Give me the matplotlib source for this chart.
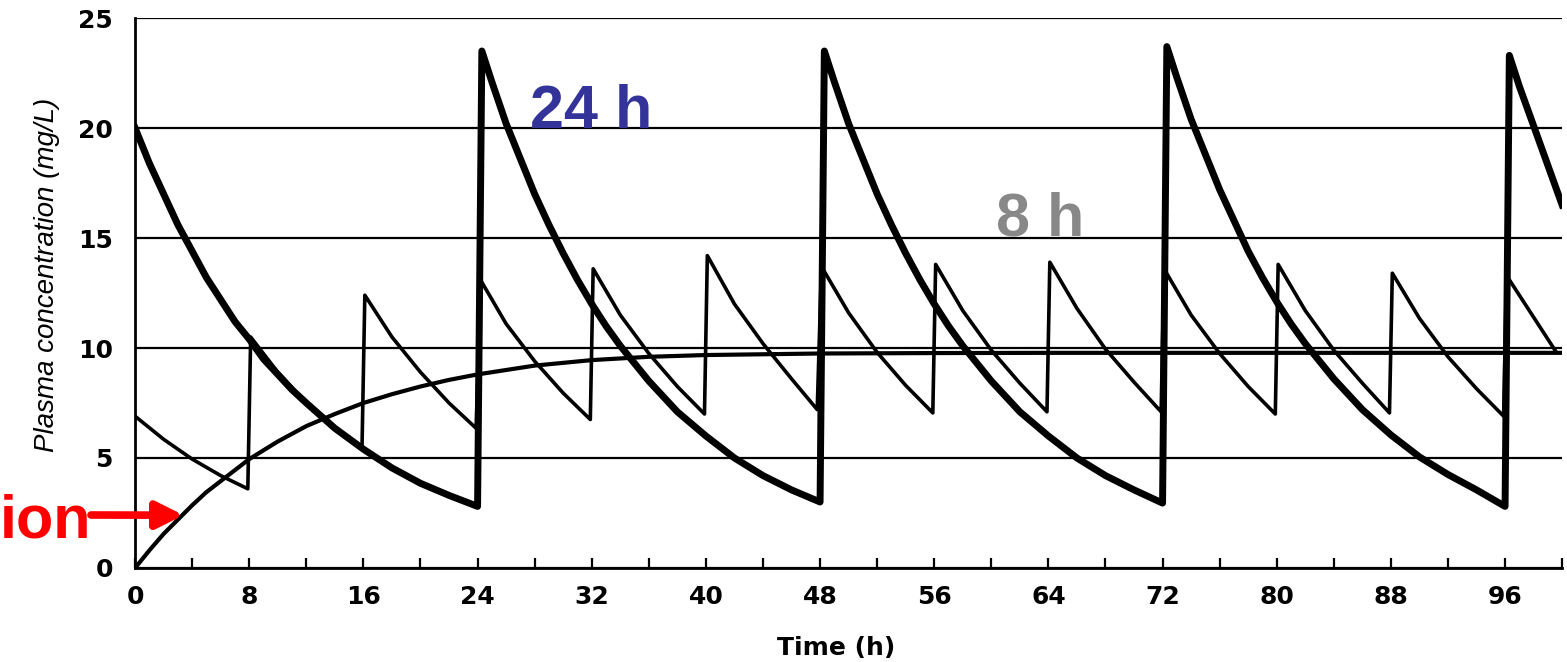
import matplotlib.pyplot as plt
from matplotlib.ticker import MultipleLocator

# continuous infusion
t_inf = [0, 1, 2, 3, 4, 5, 6, 8, 10, 12, 14, 16, 18, 20, 22, 24, 28, 32, 36, 40,
         48, 56, 64, 72, 80, 88, 96, 100]
c_inf = [0, 0.8, 1.55, 2.2, 2.85, 3.45, 3.95, 4.95, 5.75, 6.45, 7.0, 7.5, 7.9, 8.25,
         8.55, 8.8, 9.2, 9.45, 9.6, 9.68, 9.75, 9.77, 9.78, 9.78, 9.78, 9.78, 9.78, 9.78]

# dosing every 8 h
t_8h = [0, 2, 4, 6, 7.9,
        8.1, 10, 12, 14, 15.9,
        16.1, 18, 20, 22, 23.9,
        24.2, 26, 28, 30, 31.9,
        32.1, 34, 36, 38, 39.9,
        40.1, 42, 44, 46, 47.8,
        48.1, 50, 52, 54, 55.9,
        56.1, 58, 60, 62, 63.9,
        64.1, 66, 68, 70, 71.9,
        72.1, 74, 76, 78, 79.9,
        80.1, 82, 84, 86, 87.9,
        88.1, 90, 92, 94, 95.9,
        96.1, 98, 99.5]
c_8h = [6.9, 5.85, 4.95, 4.2, 3.6,
        10.5, 8.9, 7.5, 6.4, 5.4,
        12.4, 10.5, 8.9, 7.5, 6.35,
        13.1, 11.1, 9.4, 7.95, 6.75,
        13.6, 11.5, 9.75, 8.25, 7.0,
        14.2, 12.0, 10.2, 8.6, 7.2,
        13.7, 11.6, 9.8, 8.3, 7.05,
        13.8, 11.7, 9.9, 8.4, 7.1,
        13.9, 11.8, 9.95, 8.45, 7.1,
        13.6, 11.5, 9.75, 8.25, 7.0,
        13.8, 11.7, 9.9, 8.4, 7.05,
        13.4, 11.35, 9.6, 8.15, 6.9,
        13.3, 11.4, 9.9]

# dosing every 24 h
t_24h = [0, 1, 2, 3, 4, 5, 6, 7, 8, 9, 10, 11, 12, 14, 16, 18, 20, 22, 24,
         24.3, 25, 26, 27, 28, 29, 30, 31, 32, 33, 34, 35, 36, 38, 40, 42, 44, 46, 48,
         48.3, 49, 50, 51, 52, 53, 54, 55, 56, 57, 58, 59, 60, 62, 64, 66, 68, 70, 72,
         72.3, 73, 74, 75, 76, 77, 78, 79, 80, 81, 82, 83, 84, 86, 88, 90, 92, 94, 96,
         96.3, 97, 98, 99, 100]
c_24h = [20.0, 18.4, 17.0, 15.6, 14.4, 13.2, 12.2, 11.2, 10.4, 9.5, 8.8, 8.1, 7.5,
         6.35, 5.4, 4.55, 3.85, 3.3, 2.8,
         23.5, 22.1, 20.2, 18.6, 17.0, 15.6, 14.3, 13.1, 12.0, 11.0, 10.1, 9.3, 8.5,
         7.1, 6.0, 5.0, 4.2, 3.55, 3.0,
         23.5, 22.1, 20.2, 18.6, 17.0, 15.6, 14.3, 13.1, 12.0, 11.0, 10.1, 9.3, 8.5,
         7.1, 6.0, 5.0, 4.2, 3.55, 2.95,
         23.7, 22.3, 20.4, 18.8, 17.2, 15.8, 14.4, 13.2, 12.1, 11.1, 10.2, 9.4, 8.6,
         7.2, 6.05, 5.05, 4.25, 3.55, 2.8,
         23.3, 21.9, 20.1, 18.3, 16.5]

xticks = [0, 8, 16, 24, 32, 40, 48, 56, 64, 72, 80, 88, 96]
yticks = [0, 5, 10, 15, 20, 25]

fig = plt.figure(figsize=(15.67, 6.62), dpi=100)
ax = fig.add_axes([0.0862, 0.142, 0.9107, 0.8308])

ax.plot(t_inf, c_inf, color='black', lw=3.0)
ax.plot(t_8h, c_8h, color='black', lw=2.6)
ax.plot(t_24h, c_24h, color='black', lw=5.0)

ax.set_xlim(0, 100)
ax.set_ylim(0, 25)
ax.set_xticks(xticks)
ax.xaxis.set_minor_locator(MultipleLocator(4))
ax.set_yticks(yticks)
ax.yaxis.grid(True, color='black', lw=1.6)

ax.tick_params(axis='x', which='both', direction='in', length=7, width=1.6, pad=12)
ax.tick_params(axis='y', length=0, pad=16)
for lab in ax.get_xticklabels() + ax.get_yticklabels():
    lab.set_fontsize(18)
    lab.set_fontweight('bold')

ax.spines['top'].set_visible(False)
ax.spines['right'].set_visible(False)
ax.spines['left'].set_linewidth(2)
ax.spines['bottom'].set_linewidth(2)

ax.set_ylabel('Plasma concentration (mg/L)', fontsize=20, style='italic',
              family='Liberation Sans')
ax.yaxis.set_label_coords(-0.0526, 0.533)
ax.set_xlabel('Time (h)', fontsize=18, fontweight='bold')
ax.xaxis.set_label_coords(0.491, -0.124)

ax.text(27.7, 20.0, '24 h', color='#333399', fontsize=44, fontweight='bold',
        family='Liberation Sans', ha='left', va='baseline')
ax.text(60.3, 15.1, '8 h', color='#888888', fontsize=44, fontweight='bold',
        family='Liberation Sans', ha='left', va='baseline')

# only the end of this label is visible in the original
fig.text(0.0, 1 - 538 / 662, 'ion', color='red', fontsize=44,
         fontweight='bold', family='Liberation Sans', ha='left', va='baseline')
ax.annotate('', xy=(3.4, 2.4), xycoords='data',
            xytext=(91 / 1567, 1 - 515 / 662), textcoords='figure fraction',
            arrowprops=dict(arrowstyle='-|>,head_length=1.0,head_width=0.5',
                            color='red', lw=5.5, shrinkA=0, shrinkB=0,
                            mutation_scale=16))

fig.savefig('out.png', dpi=100)
